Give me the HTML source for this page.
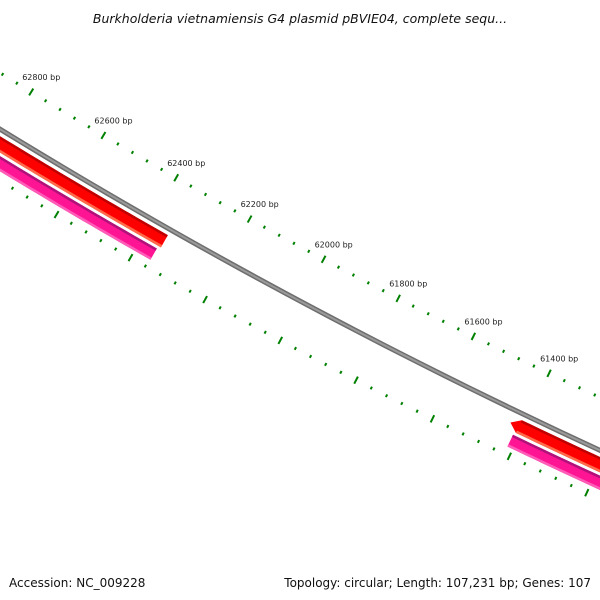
<!DOCTYPE html>
<html><head><meta charset="utf-8"><style>
html,body{margin:0;padding:0;background:#fff;width:600px;height:600px;overflow:hidden;}
svg{display:block;font-family:"DejaVu Sans","Liberation Sans",sans-serif;overflow:hidden;}
</style></head><body>
<svg id="map" width="600" height="600" viewBox="0 0 600 600">
<text x="300" y="23" text-anchor="middle" font-size="12.5" font-style="italic" fill="#111">Burkholderia vietnamiensis G4 plasmid pBVIE04, complete sequ...</text>
<g id="layer"></g>
<text x="9" y="587" font-size="12" fill="#111">Accession: NC_009228</text>
<text x="591" y="587" text-anchor="end" font-size="12" fill="#111">Topology: circular; Length: 107,231 bp; Genes: 107</text>
</svg>
<script>
// data
const majorTicks = [63000, 62800, 62600, 62400, 62200, 62000, 61800, 61600, 61400, 61200];
const tickLabels = ["63000 bp","62800 bp","62600 bp","62400 bp","62200 bp","62000 bp","61800 bp","61600 bp","61400 bp","61200 bp"];
const minorStep = 40;
const redStart = [62350, 60000];
const redEnd = [63600, 61410];
const redArrow = [false, true];
const pinkStart = [62357, 60000];
const pinkEnd = [63600, 61414];

// geometry
const CX = 3036, CY = -4821;
function ang(bp){ return (121.45 - (62800 - bp) * 0.00419) * Math.PI / 180; }
function pt(bp, r){ const a = ang(bp); return [CX + r*Math.cos(a), CY + r*Math.sin(a)]; }
const NS = "http://www.w3.org/2000/svg";
const layer = document.getElementById('layer');
function mk(tag, attrs){ const e = document.createElementNS(NS, tag); for (const k in attrs) e.setAttribute(k, attrs[k]); layer.appendChild(e); return e; }
function band(b0, b1, r0, r1, fill, name, tipAtB1){
  const pts = [];
  const n = 60;
  for (let i=0;i<=n;i++){ pts.push(pt(b0+(b1-b0)*i/n, r0)); }
  if (tipAtB1) pts.push(pt(b1+22, (r0+r1)/2));
  for (let i=n;i>=0;i--){ pts.push(pt(b0+(b1-b0)*i/n, r1)); }
  const e = mk('polygon', {points: pts.map(p=>p[0].toFixed(2)+','+p[1].toFixed(2)).join(' '), fill: fill});
  
  
  return e;
}
// backbone
band(60000, 63600, 5804.5, 5809.5, '#6e6e6e', 'backbone', false);
band(60000, 63600, 5806, 5808, '#9a9a9a', 'backbone-highlight', false);
// red features
for (let i=0;i<redStart.length;i++){
  band(redStart[i], redEnd[i], 5813, 5827, '#ff0000', 'forward-feature-'+(i+1), redArrow[i]);
  band(redStart[i], redEnd[i], 5813, 5815.5, '#c00000', 'forward-feature-edge-'+(i+1), false);
  band(redStart[i], redEnd[i], 5824.5, 5827, '#ff6a4a', 'forward-feature-light-'+(i+1), false);
}
// pink features
for (let i=0;i<pinkStart.length;i++){
  band(pinkStart[i], pinkEnd[i], 5830, 5843, '#ff1493', 'cds-feature-'+(i+1), false);
  band(pinkStart[i], pinkEnd[i], 5830, 5832.5, '#b0127a', 'cds-feature-edge-'+(i+1), false);
  band(pinkStart[i], pinkEnd[i], 5840.5, 5843, '#ff5cb8', 'cds-feature-light-'+(i+1), false);
}
// ticks
function tick(bp, r, len, name){
  const a = pt(bp, r - len/2), b = pt(bp, r + len/2);
  const e = mk('line', {x1:a[0], y1:a[1], x2:b[0], y2:b[1], stroke:'#008000', 'stroke-width':2});
  
  
}
const lo = Math.min(...majorTicks), hi = Math.max(...majorTicks);
for (let bp = hi; bp >= lo; bp -= minorStep){
  const major = majorTicks.indexOf(bp) >= 0;
  tick(bp, 5759, major ? 8 : 3, major ? 'outer-major-tick' : 'outer-minor-tick');
  tick(bp, 5851, major ? 8 : 3, major ? 'inner-major-tick' : 'inner-minor-tick');
}
for (let i=0;i<majorTicks.length;i++){
  const p = pt(majorTicks[i], 5759);
  const t = mk('text', {x:(p[0]-9).toFixed(1), y:(p[1]-12).toFixed(1), 'font-size':8, fill:'#222'});
  t.textContent = tickLabels[i];
  
  
}
</script>
</body></html>
